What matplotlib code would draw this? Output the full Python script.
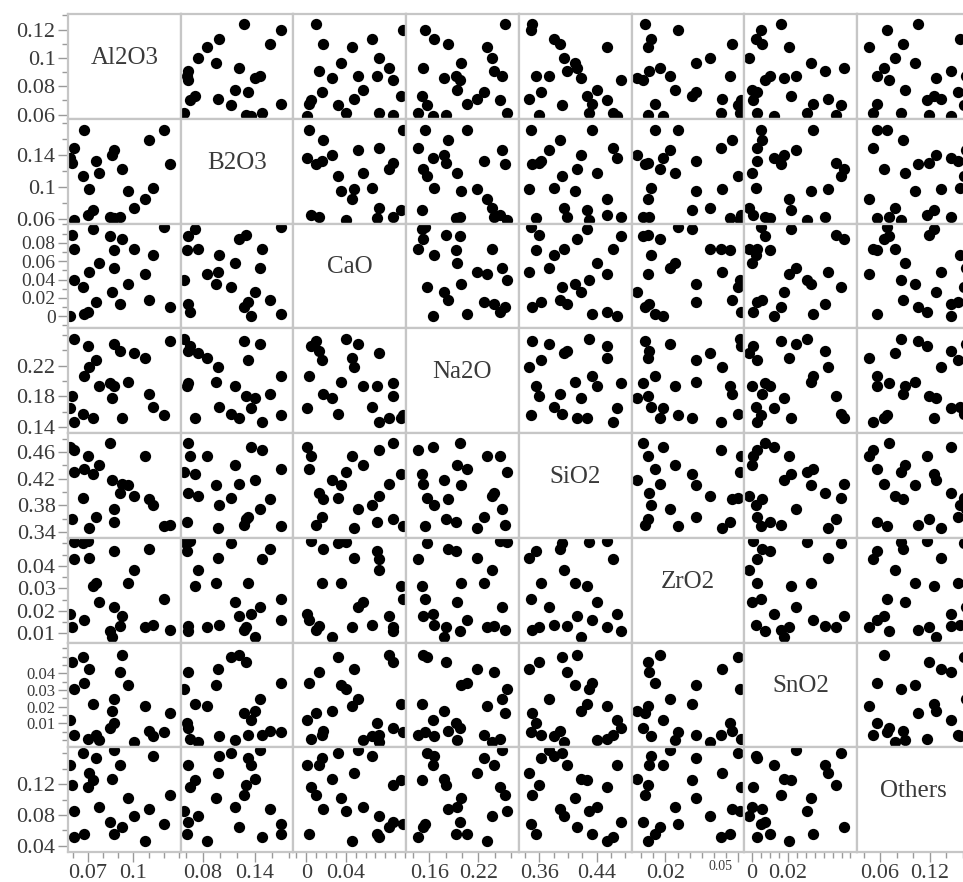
import matplotlib.pyplot as plt
from matplotlib.ticker import MultipleLocator
from matplotlib.transforms import offset_copy

plt.rcParams['font.family'] = ['Liberation Serif', 'DejaVu Serif']

names = ['Al2O3', 'B2O3', 'CaO', 'Na2O', 'SiO2', 'ZrO2', 'SnO2', 'Others']

# glass composition of each sample (mass fraction)
al2o3 = [0.0586, 0.0594, 0.0610, 0.0612, 0.0668, 0.0674, 0.0703, 0.0710, 0.0732, 0.0757, 0.0774, 0.0846,
         0.0857, 0.0872, 0.0874, 0.0910, 0.0926, 0.0961, 0.1001, 0.1074, 0.1099, 0.1130, 0.1199, 0.1239]
b2o3 = [0.136, 0.130, 0.058, 0.148, 0.113, 0.171, 0.065, 0.097, 0.071, 0.132, 0.117, 0.062,
        0.140, 0.146, 0.061, 0.062, 0.122, 0.095, 0.074, 0.085, 0.158, 0.098, 0.171, 0.128]
cao = [0.0005, 0.088, 0.040, 0.0736, 0.032, 0.0027, 0.0049, 0.0484, 0.0955, 0.0158, 0.0575, 0.0875,
       0.0261, 0.0528, 0.0717, 0.0133, 0.0838, 0.0356, 0.0736, 0.0462, 0.0174, 0.0667, 0.0977, 0.010]
na2o = [0.165, 0.180, 0.255, 0.147, 0.157, 0.206, 0.246, 0.218, 0.151, 0.227, 0.194, 0.198,
        0.178, 0.249, 0.193, 0.239, 0.152, 0.199, 0.237, 0.230, 0.183, 0.166, 0.155, 0.252]
sio2 = [0.468, 0.360, 0.430, 0.463, 0.391, 0.434, 0.454, 0.346, 0.427, 0.362, 0.440, 0.474,
        0.418, 0.374, 0.355, 0.399, 0.412, 0.410, 0.394, 0.454, 0.389, 0.380, 0.348, 0.350]
zro2 = [0.0188, 0.0128, 0.0506, 0.0429, 0.0500, 0.0158, 0.0511, 0.0435, 0.0310, 0.0325, 0.0240, 0.0109,
        0.0084, 0.0217, 0.0466, 0.0134, 0.0176, 0.0325, 0.0384, 0.0128, 0.0476, 0.0139, 0.0253, 0.0116]
sno2 = [0.0122, 0.0468, 0.0308, 0.0028, 0.0496, 0.0342, 0.0006, 0.0426, 0.0216, 0.0028, 0.0, 0.0072,
        0.0176, 0.0246, 0.0102, 0.0408, 0.0512, 0.0332, -0.0015, 0.0206, 0.0056, 0.0022, 0.0048, 0.0162]
others = [0.145, 0.119, 0.085, 0.0516, 0.161, 0.056, 0.116, 0.134, 0.125, 0.1535, 0.090, 0.0709,
          0.127, 0.164, 0.056, 0.145, 0.0645, 0.102, 0.0782, 0.0465, 0.088, 0.156, 0.0688, 0.106]

data = dict(zip(names, [al2o3, b2o3, cao, na2o, sio2, zro2, sno2, others]))

limits = {
    'Al2O3': (0.057, 0.131), 'B2O3': (0.054, 0.185), 'CaO': (-0.013, 0.101), 'Na2O': (0.132, 0.269),
    'SiO2': (0.331, 0.489), 'ZrO2': (0.006, 0.0525), 'SnO2': (-0.0044, 0.0586), 'Others': (0.032, 0.168),
}
y_labels = {
    'Al2O3': [0.06, 0.08, 0.1, 0.12], 'B2O3': [0.06, 0.1, 0.14], 'CaO': [0, 0.02, 0.04, 0.06, 0.08],
    'Na2O': [0.14, 0.18, 0.22], 'SiO2': [0.34, 0.38, 0.42, 0.46], 'ZrO2': [0.01, 0.02, 0.03, 0.04],
    'SnO2': [0.01, 0.02, 0.03, 0.04], 'Others': [0.04, 0.08, 0.12],
}
x_labels = {
    'Al2O3': [0.07, 0.1], 'B2O3': [0.08, 0.14], 'CaO': [0, 0.04], 'Na2O': [0.16, 0.22],
    'SiO2': [0.36, 0.44], 'ZrO2': [0.02, 0.05], 'SnO2': [0, 0.02], 'Others': [0.06, 0.12],
}
minor_step = {'Al2O3': 0.01, 'B2O3': 0.02, 'CaO': 0.01, 'Na2O': 0.02,
              'SiO2': 0.02, 'ZrO2': 0.005, 'SnO2': 0.005, 'Others': 0.02}
# rows whose labels sit close together get a smaller font
y_label_size = {'CaO': 14, 'SnO2': 12}


def fmt(v):
    return '0' if v == 0 else ('%g' % v)


W, H = 963, 882
x0, y0 = 68, 14
cw, ch = 112.7, 104.75
n = len(names)

fig = plt.figure(figsize=(W / 100, H / 100), dpi=100)
fig.patch.set_facecolor('white')

for i in range(n):
    for j in range(n):
        ax = fig.add_axes([(x0 + j * cw) / W, 1 - (y0 + (i + 1) * ch) / H, cw / W, ch / H])
        xv, yv = names[j], names[i]
        ax.set_xlim(limits[xv])
        ax.set_ylim(limits[yv])
        for sp in ax.spines.values():
            sp.set_color('#c6c6c6')
            sp.set_linewidth(1.6)
        if i == j:
            ax.text(0.5, 0.58, yv, transform=ax.transAxes, ha='center', va='center',
                    fontsize=18, color='#3a3a3a')
        else:
            ax.scatter(data[xv], data[yv], s=66, c='black', linewidths=0)

        ax.tick_params(which='both', direction='out', color='#9a9a9a', width=1,
                       labelcolor='#3a3a3a', labelsize=16, pad=2)
        ax.tick_params(which='major', length=7)
        ax.tick_params(which='minor', length=4)

        if j == 0:
            ax.set_yticks(y_labels[yv])
            ax.set_yticklabels([fmt(v) for v in y_labels[yv]])
            ax.yaxis.set_minor_locator(MultipleLocator(minor_step[yv]))
            if yv in y_label_size:
                ax.tick_params(axis='y', labelsize=y_label_size[yv])
        else:
            ax.set_yticks([])
        if i == n - 1:
            ax.set_xticks(x_labels[xv])
            ax.set_xticklabels([fmt(v) for v in x_labels[xv]])
            ax.xaxis.set_minor_locator(MultipleLocator(minor_step[xv]))
            if xv == 'ZrO2':
                # the last ZrO2 label is squeezed against the SnO2 axis
                small = ax.get_xticklabels()[1]
                small.set_fontsize(10)
                small.set_horizontalalignment('right')
                small.set_transform(offset_copy(small.get_transform(), fig=fig, x=-6, y=5, units='dots'))
        else:
            ax.set_xticks([])

fig.savefig('out.png', dpi=100, facecolor='white')
